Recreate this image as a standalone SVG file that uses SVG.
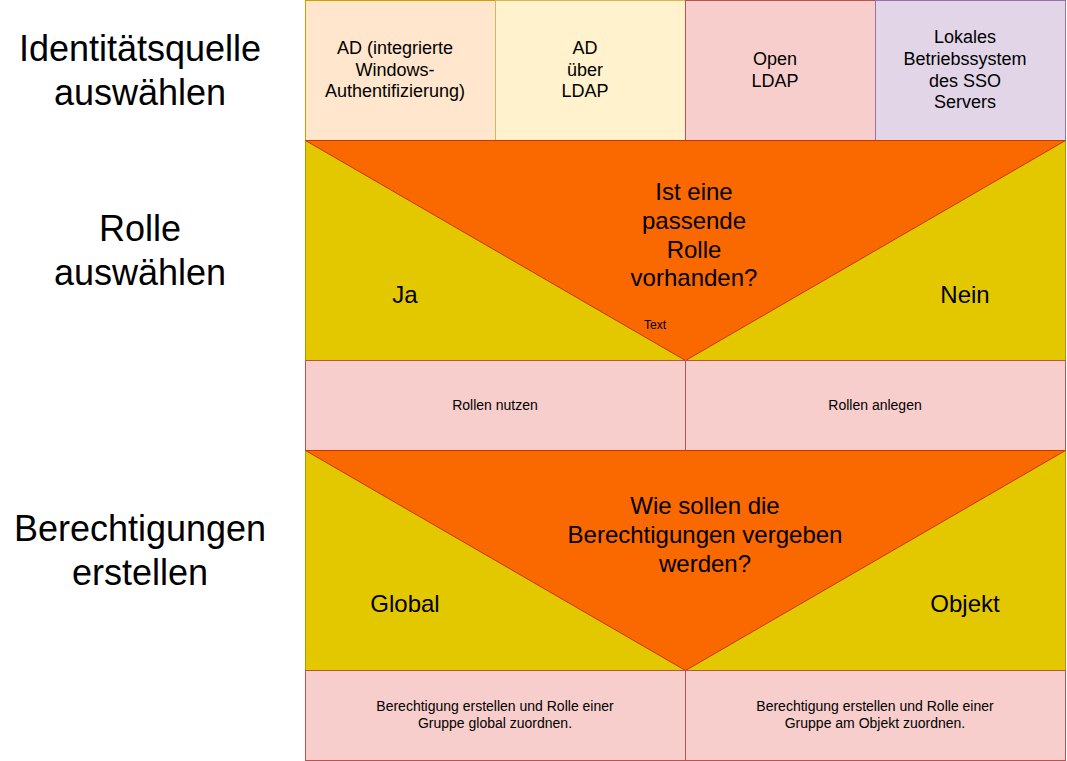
<svg xmlns="http://www.w3.org/2000/svg" width="1067" height="761" viewBox="0 0 1067 761">
<style>
text{font-family:"Liberation Sans",Arial,sans-serif;fill:#000;text-anchor:middle}
.lbl{font-size:36px}
.top{font-size:18px}
.big{font-size:24px}
.sm{font-size:14px}
.tiny{font-size:12px}
.yel{fill:#e3c800;stroke:#b09500;stroke-width:1}
.ora{fill:#fa6800;stroke:#c73500;stroke-width:1}
.pink{fill:#f8cecc;stroke:#b85450;stroke-width:1}
</style>
<rect width="1067" height="761" fill="#fff"/>
<g id="label-identitaet"><text class="lbl" x="140" y="61">Identitätsquelle</text><text class="lbl" x="140" y="105">auswählen</text></g>
<g id="label-rolle"><text class="lbl" x="140" y="241">Rolle</text><text class="lbl" x="140" y="285">auswählen</text></g>
<g id="label-berechtigungen"><text class="lbl" x="140" y="541">Berechtigungen</text><text class="lbl" x="140" y="585">erstellen</text></g>

<g id="src-ad-win"><rect x="305.5" y="0.5" width="190" height="140" fill="#ffe6cc" stroke="#d79b00"/>
<text class="top" x="395" y="54">AD (integrierte</text><text class="top" x="395" y="76">Windows-</text><text class="top" x="395" y="97">Authentifizierung)</text></g>
<g id="src-ad-ldap"><rect x="495.5" y="0.5" width="190" height="140" fill="#fff2cc" stroke="#d6b656"/>
<text class="top" x="585" y="54">AD</text><text class="top" x="585" y="76">über</text><text class="top" x="585" y="97">LDAP</text></g>
<g id="src-openldap"><rect x="685.5" y="0.5" width="190" height="140" fill="#f8cecc" stroke="#b85450"/>
<text class="top" x="775" y="65">Open</text><text class="top" x="775" y="87">LDAP</text></g>
<g id="src-lokal"><rect x="875.5" y="0.5" width="190" height="140" fill="#e1d5e7" stroke="#9673a6"/>
<text class="top" x="965" y="43">Lokales</text><text class="top" x="965" y="65">Betriebssystem</text><text class="top" x="965" y="87">des SSO</text><text class="top" x="965" y="108">Servers</text></g>

<g id="decision-rolle">
<rect class="yel" x="305.5" y="140.5" width="760" height="220"/>
<polygon class="ora" points="305.5,140.5 1065.5,140.5 685.5,360.5"/>
<text class="big" x="694" y="200">Ist eine</text><text class="big" x="694" y="229">passende</text><text class="big" x="694" y="258">Rolle</text><text class="big" x="694" y="286">vorhanden?</text>
<text class="big" x="405" y="303">Ja</text><text class="big" x="965" y="303">Nein</text>
<text class="tiny" x="655" y="329">Text</text>
</g>
<g id="rollen-nutzen"><rect class="pink" x="305.5" y="360.5" width="380" height="90"/><text class="sm" x="495" y="410">Rollen nutzen</text></g>
<g id="rollen-anlegen"><rect class="pink" x="685.5" y="360.5" width="380" height="90"/><text class="sm" x="875" y="410">Rollen anlegen</text></g>

<g id="decision-berechtigung">
<rect class="yel" x="305.5" y="450.5" width="760" height="220"/>
<polygon class="ora" points="305.5,450.5 1065.5,450.5 685.5,670.5"/>
<text class="big" x="705" y="514">Wie sollen die</text><text class="big" x="705" y="543">Berechtigungen vergeben</text><text class="big" x="705" y="572">werden?</text>
<text class="big" x="405" y="612">Global</text><text class="big" x="965" y="612">Objekt</text>
</g>
<g id="ber-global"><rect class="pink" x="305.5" y="670.5" width="380" height="90"/><text class="sm" x="495" y="711">Berechtigung erstellen und Rolle einer</text><text class="sm" x="495" y="728">Gruppe global zuordnen.</text></g>
<g id="ber-objekt"><rect class="pink" x="685.5" y="670.5" width="380" height="90"/><text class="sm" x="875" y="711">Berechtigung erstellen und Rolle einer</text><text class="sm" x="875" y="728">Gruppe am Objekt zuordnen.</text></g>
<g id="connectors"></g>
</svg>
